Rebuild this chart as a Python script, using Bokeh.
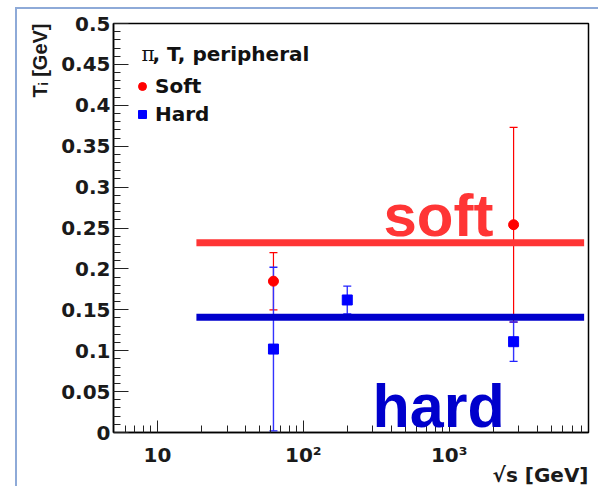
import numpy as np
from bokeh.plotting import figure
from bokeh.models import (Range1d, FixedTicker, Label, Whisker, ColumnDataSource,
                          TeeHead, Legend, LegendItem, Title)
from bokeh.embed import file_html
from bokeh.resources import INLINE

# ---------------- data ----------------
energy_soft = [62.4, 2760.0]
ti_soft = [0.185, 0.254]
err_soft = [0.035, 0.119]

energy_hard = [62.4, 200.0, 2760.0]
ti_hard = [0.102, 0.162, 0.111]
err_hard = [0.100, 0.017, 0.024]

band_x = [18.5, 8400.0]
soft_band = [0.232, 0.232]
hard_band = [0.141, 0.141]

x_ticks = [10, 100, 1000]
x_tick_labels = ["10", "10\u00b2", "10\u00b3"]
y_ticks = [0, 0.05, 0.1, 0.15, 0.2, 0.25, 0.3, 0.35, 0.4, 0.45, 0.5]
y_tick_labels = ["0", "0.05", "0.1", "0.15", "0.2", "0.25", "0.3", "0.35", "0.4", "0.45", "0.5"]

# ---------------- geometry ----------------
W, H = 598, 486
FL, FR, FT, FB = 113, 588, 23, 432
X0, X1 = 5.0, 9000.0
Y0, Y1 = 0.0, 0.5


def dx(px):
    return 10 ** (np.log10(X0) + (px - FL) / (FR - FL) * np.log10(X1 / X0))


def dy(py):
    return Y0 + (FB - py) / (FB - FT) * (Y1 - Y0)


p = figure(width=W, height=H, x_axis_type="log",
           x_range=Range1d(X0, X1), y_range=Range1d(Y0, Y1),
           output_backend="svg", toolbar_location=None,
           min_border_left=FL, min_border_right=W - FR,
           min_border_top=FT, min_border_bottom=H - FB)
p.border_fill_alpha = 0
p.background_fill_color = "white"
p.grid.visible = False
p.outline_line_color = "black"
p.outline_line_width = 1.5
p.styles = {
    "background": "linear-gradient(#8eaad8,#8eaad8) 15px 7px / 2px 100% no-repeat,"
                  " linear-gradient(#8eaad8,#8eaad8) 15px 7px / 100% 2px no-repeat, white"
}

minor_x = [m * 10 ** k for k in range(0, 4) for m in range(2, 10) if X0 < m * 10 ** k < X1]
minor_y = [round(i * 0.01, 2) for i in range(0, 51)]

xa = p.xaxis[0]
xa.ticker = FixedTicker(ticks=x_ticks, minor_ticks=minor_x)
xa.major_label_overrides = dict(zip(x_ticks, x_tick_labels))
ya = p.yaxis[0]
ya.ticker = FixedTicker(ticks=y_ticks, minor_ticks=minor_y)
ya.major_label_overrides = dict(zip(y_ticks, y_tick_labels))

for ax, maj, mnr, so in ((xa, 12, 7, 10), (ya, 15, 7, 3)):
    ax.major_tick_in = maj
    ax.major_tick_out = 0
    ax.minor_tick_in = mnr
    ax.minor_tick_out = 0
    ax.axis_line_width = 1.5
    ax.axis_line_color = "black"
    ax.major_tick_line_color = "#222222"
    ax.minor_tick_line_color = "#222222"
    ax.major_label_text_font = "DejaVu Sans"
    ax.major_label_text_font_style = "bold"
    ax.major_label_text_font_size = "20px"
    ax.major_label_text_color = "#1a1a1a"
    ax.major_label_standoff = so

# axis titles as plot titles aligned to the axis ends
p.add_layout(Title(text="\u221as [GeV]", align="right", text_font="DejaVu Sans",
                   text_font_size="20px", text_font_style="bold",
                   text_color="#1a1a1a", standoff=-17), "below")
p.add_layout(Title(text="T\u1d62 [GeV]", align="right", text_font="Liberation Sans",
                   text_font_size="20px", text_font_style="bold",
                   text_color="#1a1a1a", standoff=16), "left")

# ---------------- error bars ----------------
src_soft = ColumnDataSource(dict(x=energy_soft, y=ti_soft,
                                 lo=[v - e for v, e in zip(ti_soft, err_soft)],
                                 hi=[v + e for v, e in zip(ti_soft, err_soft)]))
src_hard = ColumnDataSource(dict(x=energy_hard, y=ti_hard,
                                 lo=[v - e for v, e in zip(ti_hard, err_hard)],
                                 hi=[v + e for v, e in zip(ti_hard, err_hard)]))

w_soft = Whisker(source=src_soft, base="x", lower="lo", upper="hi", dimension="height",
                 line_color="red", line_width=1.2,
                 upper_head=TeeHead(size=8, line_color="red", line_width=1.2),
                 lower_head=TeeHead(size=8, line_color="red", line_width=1.2))
w_hard = Whisker(source=src_hard, base="x", lower="lo", upper="hi", dimension="height",
                 line_color="#3333ff", line_width=1.4,
                 upper_head=TeeHead(size=8, line_color="#2222ff", line_width=1.4),
                 lower_head=TeeHead(size=8, line_color="#2222ff", line_width=1.4))
p.add_layout(w_soft)
p.add_layout(w_hard)

r_soft = p.scatter("x", "y", source=src_soft, marker="circle", size=10,
                   fill_color="red", line_color="red")
r_hard = p.scatter("x", "y", source=src_hard, marker="square", size=10,
                   fill_color="blue", line_color="blue")

# ---------------- bands ----------------
p.line(band_x, soft_band, line_color="#ff3535", line_width=7)
p.line(band_x, hard_band, line_color="#0000cc", line_width=7)

# ---------------- legend ----------------
legend = Legend(items=[LegendItem(label="Soft", renderers=[r_soft]),
                       LegendItem(label="Hard", renderers=[r_hard])],
                location=(19, 306), orientation="vertical",
                background_fill_alpha=0, border_line_alpha=0,
                padding=0, margin=0, spacing=4,
                glyph_width=20, glyph_height=22, label_standoff=3,
                label_text_font="DejaVu Sans", label_text_font_style="bold",
                label_text_font_size="20px", label_height=20,
                label_text_color="#111111")
p.add_layout(legend, "center")

# ---------------- texts ----------------
def add_label(px, py, text, font, size, style="normal", color="black", angle=0.0):
    p.add_layout(Label(x=dx(px), y=dy(py), text=text, text_font=font,
                       text_font_size=size, text_font_style=style, text_color=color,
                       text_align="left", text_baseline="alphabetic", angle=angle))

add_label(141, 53, "\u03c0", "DejaVu Serif", "20px", color="#111111")
add_label(152, 53, ", T, peripheral", "DejaVu Sans", "20px", "bold", "#111111")
add_label(383, 215, "soft", "Liberation Sans", "60px", "bold", "#ff3535")
add_label(372, 405, "hard", "Liberation Sans", "61px", "bold", "#0000cc")

open("out.html", "w").write(file_html(p, INLINE))
